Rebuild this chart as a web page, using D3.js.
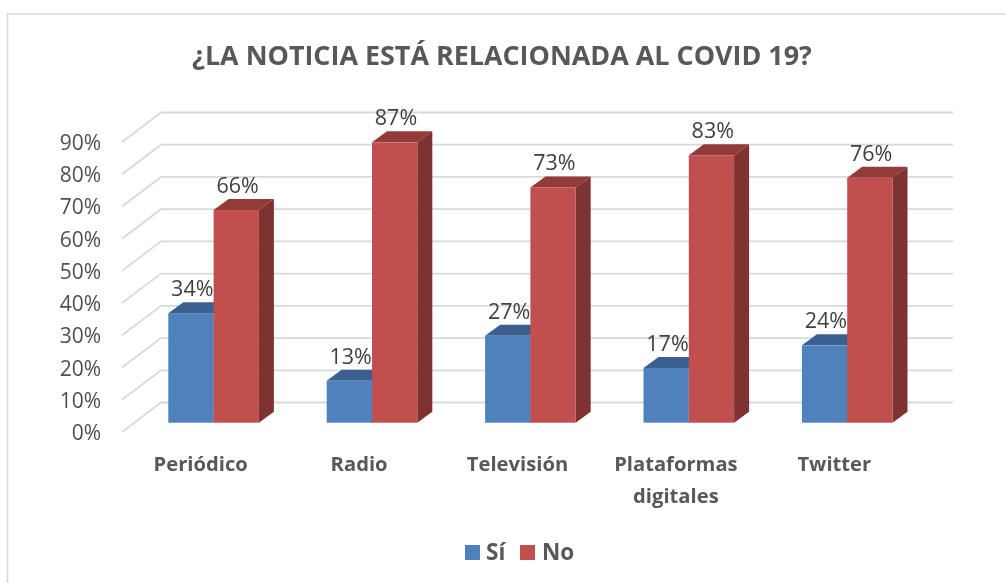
<!DOCTYPE html>
<html><head><meta charset="utf-8">
<script src="https://cdn.jsdelivr.net/npm/d3@7/dist/d3.min.js"></script>
<style>html,body{margin:0;padding:0;background:#fff}svg{display:block}text{font-family:"Open Sans",sans-serif}</style>
</head><body><svg id="c" width="1006" height="583"></svg>
<script>
const categories=[["Periódico"],["Radio"],["Televisión"],["Plataformas","digitales"],["Twitter"]];
const seriesNames=["Sí","No"];
const si=[0.34,0.13,0.27,0.17,0.24];
const no=[0.66,0.87,0.73,0.83,0.76];
const colors={"Sí":["#4f81bd","#3a6190","#335a86"],"No":["#c0504d","#933a38","#7f3130"]};
const ticks=[0,.1,.2,.3,.4,.5,.6,.7,.8,.9];
const titleText="¿LA NOTICIA ESTÁ RELACIONADA AL COVID 19?";

const root=d3.select("#c");
root.append("defs").append("filter").attr("id","soft")
  .attr("filterUnits","userSpaceOnUse").attr("x",0).attr("y",0).attr("width",1006).attr("height",583)
  .append("feGaussianBlur").attr("stdDeviation",0.4);
const svg=root.append("g").attr("filter","url(#soft)");
svg.append("rect").attr("width",1006).attr("height",583).attr("fill","#fff");
svg.append("path").attr("d","M7.5,583V14H1006").attr("fill","none").attr("stroke","#d9d9d9").attr("stroke-width",1.6);
svg.append("text").attr("x",502).attr("y",65).attr("text-anchor","middle").attr("font-size",26.9).attr("font-weight",700).attr("fill","#595959").text(titleText);

const y=d3.scaleLinear().domain([0,.9]).range([432,142]);
const backDx=39,backDy=-29.5,wallR=953;
const grid=svg.append("g").attr("fill","none").attr("stroke","#d9d9d9").attr("stroke-width",1.8);
ticks.forEach(t=>{
  const py=y(t);
  grid.append("path").attr("d",d3.line()([[122,py],[122+backDx,py+backDy],[wallR,py+backDy]]));
});
svg.append("g").selectAll("text").data(ticks).join("text")
  .attr("x",101).attr("y",d=>y(d)+8).attr("text-anchor","end").attr("font-size",21).attr("fill","#505050")
  .text(d3.format(".0%"));

const x0=d3.scaleBand().domain(d3.range(categories.length)).range([128.7,920.7]).paddingInner(0).paddingOuter(0);
const barW=45.3,depthX=15,depthY=-11,baseShift=-9.3;
const groups=svg.append("g").selectAll("g").data(categories).join("g");
function bar(g,val,name,left){
  const c=colors[name],top=y(val)+baseShift,base=y(0)+baseShift,right=left+barW;
  g.append("polygon").attr("points",[[left,top],[left+depthX,top+depthY],[right+depthX,top+depthY],[right,top]].join(" ")).attr("fill",c[1]);
  g.append("polygon").attr("points",[[right,top],[right+depthX,top+depthY],[right+depthX,base+depthY],[right,base]].join(" ")).attr("fill",c[2]);
  g.append("rect").attr("x",left).attr("y",top).attr("width",barW).attr("height",base-top).attr("fill",c[0]);
}
groups.each(function(_,i){
  const g=d3.select(this),l=x0(i)+39.6;
  bar(g,si[i],"Sí",l);
  bar(g,no[i],"No",l+barW);
});
const labels=svg.append("g").attr("font-size",21.5).attr("fill","#404040").attr("text-anchor","middle");
categories.forEach((_,i)=>{
  const l=x0(i)+39.6;
  labels.append("text").attr("x",l+24).attr("y",y(si[i])+baseShift-17).text(d3.format(".0%")(si[i]));
  labels.append("text").attr("x",l+barW+24).attr("y",y(no[i])+baseShift-17).text(d3.format(".0%")(no[i]));
});
const cat=svg.append("g").attr("font-size",20.2).attr("font-weight",700).attr("fill","#595959").attr("text-anchor","middle");
categories.forEach((lines,i)=>{
  const cx=x0(i)+72;
  lines.forEach((t,j)=>cat.append("text").attr("x",cx).attr("y",471+j*32).text(t));
});
const lg=svg.append("g");
const lgX=[465,520],lgTx=[486,542];
seriesNames.forEach((n,i)=>{
  lg.append("rect").attr("x",lgX[i]).attr("y",545).attr("width",15).attr("height",15).attr("fill",colors[n][0]);
  lg.append("text").attr("x",lgTx[i]).attr("y",560).attr("font-size",22.5).attr("font-weight",700).attr("fill","#595959").text(n);
});
</script></body></html>
